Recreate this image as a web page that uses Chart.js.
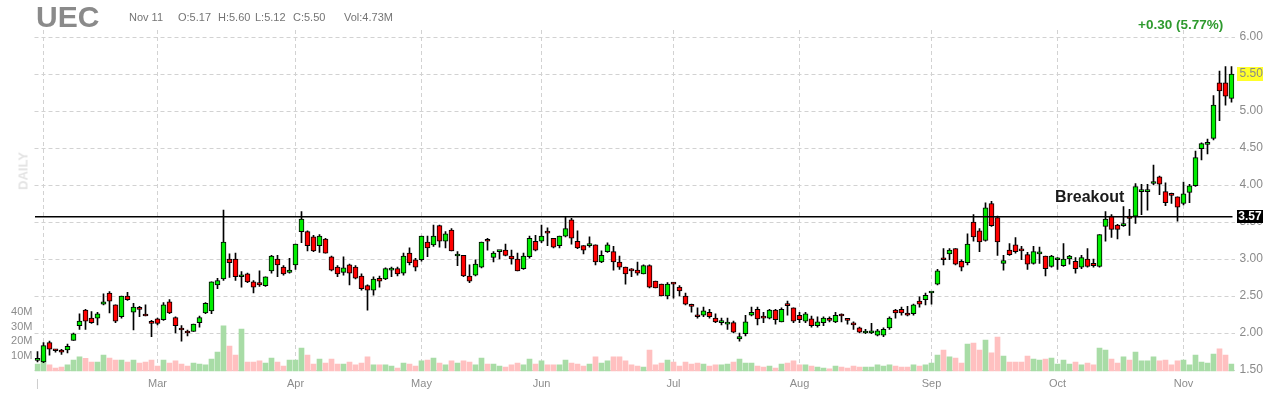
<!DOCTYPE html>
<html><head><meta charset="utf-8">
<script src="https://cdn.jsdelivr.net/npm/chart.js@4/dist/chart.umd.min.js"></script>
<style>
html,body{margin:0;padding:0;background:#fff;}
#wrap{position:relative;width:1280px;height:400px;overflow:hidden;font-family:"Liberation Sans",Arial,sans-serif;}
canvas{position:absolute;left:0;top:0;}
.t{position:absolute;white-space:nowrap;line-height:1;}
.h{font-size:11px;color:#747474;top:12px;}
</style></head><body>
<div id="wrap">
<canvas id="c" width="1280" height="400"></canvas>
<div class="t" style="left:36px;top:2px;font-size:30px;font-weight:bold;color:#8a8a8a">UEC</div>
<div class="t h" style="left:129px">Nov 11</div>
<div class="t h" style="left:178px">O:5.17</div>
<div class="t h" style="left:218px">H:5.60</div>
<div class="t h" style="left:255px">L:5.12</div>
<div class="t h" style="left:293px">C:5.50</div>
<div class="t h" style="left:344px">Vol:4.73M</div>
<div class="t" style="left:1138px;top:18px;font-size:13.5px;font-weight:bold;color:#2e9a2e">+0.30 (5.77%)</div>
<div class="t" style="left:23px;top:171px;font-size:13px;font-weight:bold;color:#e3e3e3;transform:translate(-50%,-50%) rotate(-90deg)">DAILY</div>
<div class="t" style="left:1055px;top:189px;font-size:16px;font-weight:bold;color:#1a1a1a">Breakout</div>
</div>
<script>
// Trading days (2021) per month
const monthDays = [
  ['Jan',[29]],
  ['Feb',[1,2,3,4,5,8,9,10,11,12,16,17,18,19,22,23,24,25,26]],
  ['Mar',[1,2,3,4,5,8,9,10,11,12,15,16,17,18,19,22,23,24,25,26,29,30,31]],
  ['Apr',[1,5,6,7,8,9,12,13,14,15,16,19,20,21,22,23,26,27,28,29,30]],
  ['May',[3,4,5,6,7,10,11,12,13,14,17,18,19,20,21,24,25,26,27,28]],
  ['Jun',[1,2,3,4,7,8,9,10,11,14,15,16,17,18,21,22,23,24,25,28,29,30]],
  ['Jul',[1,2,6,7,8,9,12,13,14,15,16,19,20,21,22,23,26,27,28,29,30]],
  ['Aug',[2,3,4,5,6,9,10,11,12,13,16,17,18,19,20,23,24,25,26,27,30,31]],
  ['Sep',[1,2,3,7,8,9,10,13,14,15,16,17,20,21,22,23,24,27,28,29,30]],
  ['Oct',[1,4,5,6,7,8,11,12,13,14,15,18,19,20,21,22,25,26,27,28,29]],
  ['Nov',[1,2,3,4,5,8,9,10,11]]
];
const categories = [];
monthDays.forEach(([m, ds]) => ds.forEach(d => categories.push(m + ' ' + d)));

// x-axis tick labels and month gridlines
const tickIndex  = [0, 20, 43, 64, 84, 106, 127, 149, 170, 191];
const tickLabels = ['|','Mar','Apr','May','Jun','Jul','Aug','Sep','Oct','Nov'];
const gridIndex  = [1, 20, 43, 64, 84, 106, 127, 149, 170, 191];

const priceTicks  = [1.5,2.0,2.5,3.0,3.5,4.0,4.5,5.0,5.5,6.0];
const volumeTicks = [10,20,30,40];
const breakoutLevel = 3.57;
const lastClose = 5.50;

const open = [
1.63,1.61,1.87,1.77,1.77,1.77,1.90,2.10,2.31,2.20,
2.20,2.39,2.54,2.38,2.22,2.50,2.28,2.34,2.24,2.14,
2.19,2.18,2.42,2.21,2.05,2.01,2.02,2.14,2.27,2.30,
2.65,2.73,3.00,3.00,2.76,2.80,2.69,2.68,2.64,2.84,
3.00,2.89,2.82,2.92,3.37,3.37,3.30,3.18,3.27,3.03,
2.89,2.82,2.92,2.89,2.77,2.64,2.58,2.74,2.73,2.85,
2.87,2.81,3.08,2.99,2.99,3.23,3.19,3.45,3.24,3.39,
3.04,3.05,2.77,2.78,2.89,3.25,3.02,3.10,3.12,3.04,
3.00,2.87,3.03,3.24,3.24,3.36,3.28,3.18,3.31,3.53,
3.24,3.18,3.18,3.19,2.96,3.10,3.10,2.96,2.89,2.85,
2.85,2.80,2.91,2.70,2.66,2.50,2.67,2.62,2.50,2.37,
2.24,2.24,2.28,2.20,2.14,2.12,2.14,1.92,1.99,2.24,
2.32,2.21,2.20,2.31,2.15,2.38,2.34,2.24,2.16,2.19,
2.10,2.14,2.18,2.15,2.24,2.18,2.12,2.07,2.00,2.00,
1.97,1.97,2.07,2.31,2.32,2.27,2.26,2.43,2.45,2.54,
2.66,3.00,3.07,3.14,2.97,2.95,3.50,3.38,3.25,3.75,
3.56,2.94,3.12,3.19,3.12,3.06,2.94,3.07,3.04,2.90,
2.99,2.91,3.00,2.97,2.89,3.00,2.94,2.90,3.44,3.58,
3.46,3.45,3.58,3.58,3.91,3.91,4.02,4.11,3.91,3.88,
3.84,3.75,3.90,3.99,4.49,4.55,4.63,5.38,5.38,5.17];

const high = [
1.75,1.87,1.89,1.78,1.78,1.85,2.00,2.26,2.32,2.29,
2.28,2.53,2.56,2.38,2.50,2.55,2.40,2.36,2.38,2.17,
2.20,2.41,2.45,2.22,2.10,2.04,2.12,2.23,2.41,2.69,
2.74,3.66,3.07,3.08,2.83,2.81,2.71,2.84,2.76,3.05,
3.05,2.91,3.01,3.20,3.64,3.38,3.32,3.33,3.28,3.04,
2.91,3.03,2.93,2.91,2.80,2.65,2.76,2.77,2.88,2.89,
2.89,3.08,3.15,3.01,3.31,3.31,3.46,3.46,3.37,3.41,
3.10,3.05,2.92,2.99,3.23,3.28,3.10,3.11,3.20,3.12,
3.08,3.08,3.31,3.32,3.46,3.42,3.28,3.31,3.57,3.55,
3.38,3.18,3.30,3.19,3.11,3.22,3.17,3.04,2.89,2.87,
2.96,2.92,2.92,2.70,2.66,2.68,2.68,2.64,2.54,2.39,
2.34,2.35,2.32,2.26,2.20,2.20,2.16,2.00,2.24,2.35,
2.35,2.28,2.32,2.32,2.34,2.43,2.34,2.28,2.28,2.23,
2.22,2.22,2.22,2.28,2.26,2.19,2.15,2.08,2.05,2.13,
2.05,2.07,2.22,2.32,2.35,2.36,2.39,2.49,2.54,2.55,
2.86,3.14,3.14,3.14,2.99,3.34,3.60,3.41,3.76,3.78,
3.58,3.05,3.21,3.29,3.17,3.09,3.17,3.16,3.04,3.05,
3.02,3.21,3.05,3.02,3.05,3.14,3.00,3.33,3.64,3.60,
3.47,3.71,3.67,4.02,4.01,4.01,4.27,4.12,4.03,3.89,
3.84,4.04,4.01,4.46,4.57,4.62,5.21,5.54,5.60,5.60];

const low = [
1.61,1.60,1.70,1.74,1.71,1.73,1.90,2.05,2.05,2.13,
2.11,2.38,2.27,2.14,2.20,2.44,2.04,2.22,2.23,1.95,
2.11,2.17,2.26,2.00,1.89,1.96,2.02,2.08,2.26,2.26,
2.60,2.71,2.75,2.71,2.62,2.68,2.54,2.63,2.63,2.81,
2.76,2.78,2.81,2.86,3.22,3.11,3.10,3.09,3.08,2.84,
2.76,2.78,2.65,2.73,2.58,2.31,2.51,2.62,2.72,2.76,
2.77,2.78,2.92,2.84,2.97,3.03,3.17,3.16,3.15,3.11,
2.91,2.76,2.68,2.77,2.88,3.12,2.96,3.00,3.04,2.93,
2.84,2.86,3.01,3.11,3.22,3.18,3.15,3.15,3.30,3.20,
3.14,3.07,3.16,2.92,2.95,3.09,2.85,2.86,2.66,2.76,
2.78,2.80,2.61,2.61,2.50,2.46,2.47,2.50,2.38,2.28,
2.20,2.22,2.20,2.14,2.11,2.05,2.00,1.89,1.96,2.23,
2.11,2.14,2.19,2.12,2.15,2.24,2.14,2.14,2.14,2.08,
2.08,2.10,2.15,2.14,2.15,2.12,2.05,2.00,1.99,1.99,
1.96,1.95,2.05,2.20,2.24,2.23,2.24,2.35,2.38,2.39,
2.65,2.92,2.99,2.92,2.84,2.92,3.24,3.10,3.24,3.44,
3.05,2.85,3.05,3.08,2.99,2.86,2.93,2.94,2.77,2.89,
2.86,2.90,2.93,2.81,2.87,2.89,2.89,2.89,3.24,3.29,
3.27,3.44,3.32,3.48,3.60,3.66,4.00,3.87,3.72,3.75,
3.51,3.73,3.76,3.98,4.34,4.42,4.61,4.87,5.08,5.12];

const close = [
1.64,1.83,1.78,1.76,1.74,1.82,1.99,2.16,2.16,2.14,
2.26,2.42,2.43,2.16,2.50,2.45,2.35,2.32,2.23,2.13,
2.13,2.38,2.27,2.10,2.04,2.00,2.12,2.21,2.40,2.69,
2.71,3.23,2.95,2.76,2.77,2.69,2.62,2.65,2.76,3.04,
2.92,2.80,2.85,3.20,3.54,3.18,3.11,3.31,3.08,2.85,
2.80,2.88,2.81,2.74,2.60,2.58,2.73,2.70,2.87,2.86,
2.80,3.04,2.95,2.89,3.31,3.15,3.31,3.24,3.34,3.11,
3.05,2.77,2.70,2.93,3.23,3.24,3.08,3.11,3.05,3.00,
2.84,3.04,3.28,3.12,3.31,3.35,3.16,3.31,3.41,3.28,
3.15,3.12,3.19,2.96,3.05,3.19,2.96,2.89,2.80,2.84,
2.81,2.91,2.62,2.61,2.50,2.66,2.66,2.57,2.39,2.36,
2.22,2.30,2.22,2.15,2.15,2.13,2.01,1.95,2.15,2.28,
2.19,2.20,2.31,2.18,2.32,2.37,2.16,2.18,2.26,2.10,
2.15,2.20,2.17,2.24,2.23,2.17,2.11,2.01,2.01,2.03,
2.03,2.05,2.20,2.27,2.27,2.24,2.38,2.39,2.51,2.55,
2.84,2.99,3.12,2.93,2.89,3.20,3.30,3.23,3.69,3.45,
3.23,2.98,3.06,3.10,3.11,2.93,3.10,3.08,2.87,3.04,
3.00,3.00,3.04,2.87,3.02,2.90,2.91,3.33,3.54,3.40,
3.40,3.48,3.55,3.98,3.92,3.92,4.03,4.01,3.76,3.86,
3.70,3.88,3.99,4.37,4.56,4.57,5.08,5.27,5.20,5.50];

// volume in millions
const volume = [
4.7,10.4,4.1,2.0,2.7,4.1,7.4,9.5,8.6,6.1,
6.1,10.8,8.8,7.4,7.4,6.1,7.4,5.4,6.1,7.4,
3.4,7.4,5.4,6.8,4.7,3.4,5.4,4.7,4.1,8.1,
12.8,30.6,16.9,10.8,28.4,6.1,6.1,6.8,5.4,8.8,
6.1,3.4,7.4,7.4,15.5,10.8,4.7,8.1,5.4,8.1,
4.7,4.7,6.1,4.1,5.4,9.5,4.1,4.1,4.1,3.4,
2.0,5.4,4.7,3.4,6.8,7.4,8.8,5.4,4.1,6.8,
5.4,6.8,6.1,4.1,8.8,4.7,4.7,3.4,2.7,4.1,
5.4,4.1,8.1,4.7,6.8,4.1,4.1,4.1,7.4,5.4,
4.7,3.4,4.7,9.5,5.4,6.8,9.5,9.5,6.8,4.1,
3.4,2.7,14.2,4.1,5.4,7.4,6.1,3.4,6.1,4.7,
5.4,4.7,3.4,4.1,4.1,4.7,6.1,8.1,5.4,5.4,
3.4,2.7,3.4,2.0,4.7,5.4,6.8,4.1,4.1,3.4,
2.7,2.0,1.4,3.4,2.7,2.0,3.4,2.7,2.7,2.7,
4.1,3.4,4.1,3.4,2.7,2.7,4.1,3.4,4.1,5.4,
10.8,14.2,9.5,8.8,5.4,18.2,18.9,14.2,20.9,12.2,
23.0,10.1,6.1,6.1,6.1,10.1,8.1,7.4,8.1,8.8,
4.7,7.4,4.7,6.1,4.1,5.4,4.1,15.5,14.2,8.1,
5.4,9.5,7.4,12.8,6.8,6.8,9.5,6.8,7.4,4.1,
6.8,7.4,4.1,10.8,6.1,5.4,11.5,14.9,10.8,4.73];

const UP = '#00ee00', DOWN = '#ff0000', VUP = '#a8dca6', VDOWN = '#ffc0c0';
const isUp = open.map((o, i) => close[i] >= o);

const tickMap = {};
tickIndex.forEach((ix, k) => tickMap[ix] = tickLabels[k]);

const overlay = {
  id: 'overlay',
  beforeDraw(chart) {
    const ctx = chart.ctx, y = chart.scales.yPrice.getPixelForValue(lastClose);
    ctx.save();
    ctx.fillStyle = '#ffff2a';
    ctx.fillRect(1237, Math.round(y) - 7, 26, 14);
    ctx.restore();
  },
  afterDatasetsDraw(chart) {
    const ctx = chart.ctx, a = chart.chartArea;
    const y = chart.scales.yPrice.getPixelForValue(breakoutLevel);
    ctx.save();
    ctx.strokeStyle = '#000';
    ctx.lineWidth = 1.5;
    ctx.beginPath();
    ctx.moveTo(a.left + 0.5, y);
    ctx.lineTo(a.right - 2, y);
    ctx.stroke();
    ctx.restore();
  },
  afterDraw(chart) {
    const ctx = chart.ctx;
    const y = chart.scales.yPrice.getPixelForValue(breakoutLevel);
    ctx.save();
    ctx.fillStyle = '#000';
    ctx.fillRect(1237, Math.round(y) - 7, 26, 13);
    ctx.fillStyle = '#fff';
    ctx.font = 'bold 12px "Liberation Sans", Arial, sans-serif';
    ctx.textAlign = 'center';
    ctx.textBaseline = 'middle';
    ctx.fillText(breakoutLevel.toFixed(2), 1250, Math.round(y));
    ctx.restore();
  }
};

new Chart(document.getElementById('c'), {
  type: 'bar',
  data: {
    labels: categories,
    datasets: [
      {
        label: 'Volume', yAxisID: 'yVol', order: 3, grouped: false,
        data: volume,
        backgroundColor: isUp.map(u => u ? VUP : VDOWN),
        barThickness: 5, borderWidth: 0
      },
      {
        label: 'Wick', yAxisID: 'yPrice', order: 2, grouped: false,
        data: low.map((l, i) => [l, high[i]]),
        backgroundColor: '#000', barThickness: 1, borderWidth: 0
      },
      {
        label: 'Body', yAxisID: 'yPrice', order: 1, grouped: false,
        data: open.map((o, i) => [o, close[i]]),
        backgroundColor: isUp.map(u => u ? UP : DOWN),
        borderColor: '#000', borderWidth: 1, borderSkipped: false,
        barThickness: 5, minBarLength: 2
      }
    ]
  },
  options: {
    responsive: false,
    animation: false,
    devicePixelRatio: 1,
    layout: { padding: { top: 30, left: 0, right: 0, bottom: 0 } },
    plugins: { legend: { display: false }, tooltip: { enabled: false } },
    scales: {
      x: {
        type: 'category', offset: true, position: 'bottom',
        grid: {
          offset: false, drawTicks: false, lineWidth: 1,
          color: ctx => gridIndex.includes(ctx.index) ? '#d2d2d2' : 'rgba(0,0,0,0)'
        },
        border: { display: false, dash: [4, 3] },
        ticks: {
          autoSkip: false, maxRotation: 0, minRotation: 0, padding: 4,
          font: { family: '"Liberation Sans", Arial, sans-serif', size: 11 },
          color: ctx => ctx.index === 0 ? '#c8c8c8' : '#8c8c8c',
          callback: (v, i) => tickMap[i] !== undefined ? tickMap[i] : ''
        },
        afterFit: s => { s.height = 27; }
      },
      yPrice: {
        type: 'linear', position: 'right',
        min: 1.4595, max: 6.0946,
        afterBuildTicks: s => { s.ticks = priceTicks.map(v => ({ value: v })); },
        grid: { drawTicks: false, color: '#d2d2d2', lineWidth: 1 },
        border: { display: false, dash: [4, 3] },
        ticks: {
          padding: 5, color: '#8a8a8a',
          font: { family: '"Liberation Sans", Arial, sans-serif', size: 12 },
          callback: v => Number(v).toFixed(2)
        },
        afterFit: s => { s.width = 45.5; }
      },
      yVol: {
        type: 'linear', position: 'left',
        min: -1.351, max: 230.4,
        afterBuildTicks: s => { s.ticks = volumeTicks.map(v => ({ value: v })); },
        grid: { display: false, drawTicks: false },
        border: { display: false },
        ticks: {
          padding: 2, color: '#8c8c8c',
          font: { family: '"Liberation Sans", Arial, sans-serif', size: 11 },
          callback: v => v + 'M'
        },
        afterFit: s => { s.width = 34.5; }
      }
    }
  },
  plugins: [overlay]
});
</script>
</body></html>
